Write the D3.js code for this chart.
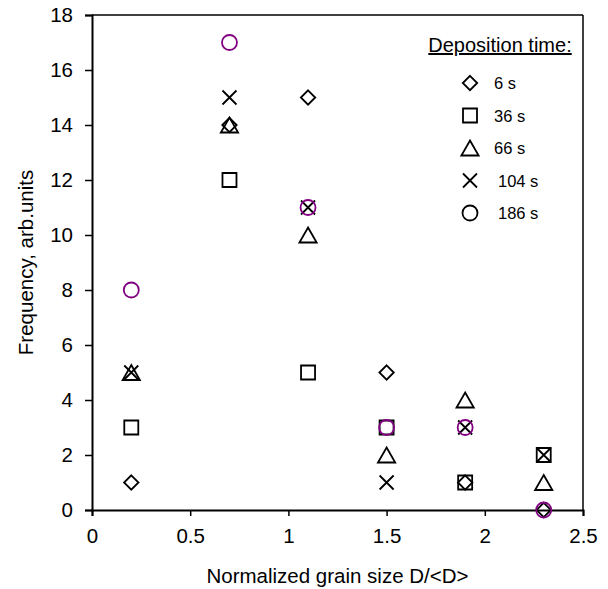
<!DOCTYPE html>
<html>
<head>
<meta charset="utf-8">
<script src="https://cdn.jsdelivr.net/npm/d3@7"></script>
<style>
  body { margin: 0; background: #fff; }
  text { font-family: "Liberation Sans", Arial, sans-serif; fill: #000; }
</style>
</head>
<body>
<div id="chart"></div>
<script>
// grain size bins (x) and frequency per deposition time
const grainSize = [0.2, 0.7, 1.1, 1.5, 1.9, 2.3];
const seriesNames = ["6 s", "36 s", "66 s", "104 s", "186 s"];
const freq6 = [1, 14, 15, 5, 1, 0];
const freq36 = [3, 12, 5, 3, 1, 2];
const freq66 = [5, 14, 10, 2, 4, 1];
const freq104 = [5, 15, 11, 1, 3, 2];
const freq186 = [8, 17, 11, 3, 3, 0];
const xTicks = [0, 0.5, 1, 1.5, 2, 2.5];
const yTicks = [0, 2, 4, 6, 8, 10, 12, 14, 16, 18];

const W = 608, H = 589;
const m = { left: 92, right: 25, top: 15, bottom: 79 };

const svg = d3.select("#chart").append("svg").attr("width", W).attr("height", H);

const x = d3.scaleLinear().domain([0, 2.5]).range([m.left, W - m.right]);
const y = d3.scaleLinear().domain([0, 18]).range([H - m.bottom, m.top]);

// marker shapes, size = half extent
const diamond = { draw(c, s) { c.moveTo(0, -s); c.lineTo(s, 0); c.lineTo(0, s); c.lineTo(-s, 0); c.closePath(); } };
const square = { draw(c, s) { c.rect(-s, -s, 2 * s, 2 * s); } };
const triangle = { draw(c, s) { const w = s * 1.15; c.moveTo(0, -s); c.lineTo(w, s); c.lineTo(-w, s); c.closePath(); } };
const cross = { draw(c, s) { c.moveTo(-s, -s); c.lineTo(s, s); c.moveTo(s, -s); c.lineTo(-s, s); } };
const circle = { draw(c, s) { c.moveTo(s, 0); c.arc(0, 0, s, 0, 2 * Math.PI); } };

const series = [
  { name: seriesNames[0], vals: freq6, type: diamond, size: 7.2, color: "#000" },
  { name: seriesNames[1], vals: freq36, type: square, size: 7, color: "#000" },
  { name: seriesNames[2], vals: freq66, type: triangle, size: 7.5, color: "#000" },
  { name: seriesNames[3], vals: freq104, type: cross, size: 7, color: "#000" },
  { name: seriesNames[4], vals: freq186, type: circle, size: 7.5, color: "#800080" }
];

// frame (top and right)
svg.append("line").attr("x1", x(0)).attr("x2", x(2.5)).attr("y1", y(18)).attr("y2", y(18))
  .attr("stroke", "#000").attr("stroke-width", 1.5);
svg.append("line").attr("x1", x(2.5)).attr("x2", x(2.5)).attr("y1", y(18)).attr("y2", y(0))
  .attr("stroke", "#000").attr("stroke-width", 1.5);

const xAxis = svg.append("g").attr("transform", `translate(0,${y(0)})`)
  .call(d3.axisBottom(x).tickValues(xTicks).tickFormat(d3.format("")).tickSize(6).tickPadding(12));
const yAxis = svg.append("g").attr("transform", `translate(${x(0)},0)`)
  .call(d3.axisLeft(y).tickValues(yTicks).tickSize(7).tickPadding(12));

[xAxis, yAxis].forEach(g => {
  g.select(".domain").attr("stroke-width", 2);
  g.selectAll(".tick line").attr("stroke-width", 1.5);
  g.selectAll("text").style("font-size", "20.5px").attr("fill", "#000");
});
xAxis.selectAll("text").attr("dy", "0.72em");

// axis titles
svg.append("text").attr("x", (x(0) + x(2.5)) / 2).attr("y", 583)
  .attr("text-anchor", "middle").style("font-size", "20.5px").text("Normalized grain size D/<D>");
svg.append("text").attr("transform", `translate(33,${(y(0) + y(18)) / 2}) rotate(-90)`)
  .attr("text-anchor", "middle").style("font-size", "20.5px").text("Frequency, arb.units");

// points
series.forEach(s => {
  svg.append("g").selectAll("path").data(s.vals.map((v, i) => [grainSize[i], v])).join("path")
    .attr("transform", d => `translate(${x(d[0])},${y(d[1])})`)
    .attr("d", d3.symbol().type(s.type).size(s.size))
    .attr("fill", "none").attr("stroke", s.color).attr("stroke-width", 1.8);
});

// legend
const lg = svg.append("g");
lg.append("text").attr("x", 500).attr("y", 52).attr("text-anchor", "middle")
  .style("font-size", "20px").style("text-decoration", "underline").text("Deposition time:");
const rows = lg.selectAll("g.row").data(series).join("g").attr("class", "row")
  .attr("transform", (d, i) => `translate(470,${83 + i * 32.5})`);
rows.append("path").attr("d", d => d3.symbol().type(d.type).size(d.size)())
  .attr("fill", "none").attr("stroke", "#000").attr("stroke-width", 1.8);
rows.append("text").attr("x", (d, i) => i < 3 ? 24 : 28).attr("y", 6)
  .style("font-size", "16.5px").text(d => d.name);
</script>
</body>
</html>
